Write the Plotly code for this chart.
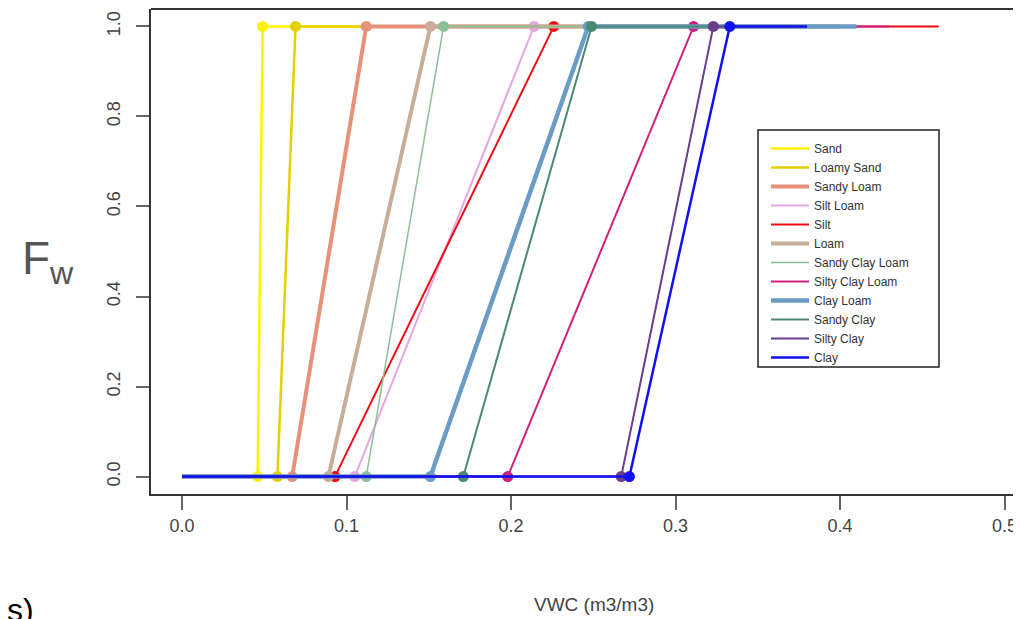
import plotly.graph_objects as go

# ---- data ----
soil_names = ["Sand", "Loamy Sand", "Sandy Loam", "Silt Loam", "Silt", "Loam",
              "Sandy Clay Loam", "Silty Clay Loam", "Clay Loam", "Sandy Clay",
              "Silty Clay", "Clay"]
vwc_low = [0.046, 0.058, 0.067, 0.105, 0.093, 0.089, 0.112, 0.198, 0.151, 0.171, 0.267, 0.272]
vwc_high = [0.049, 0.069, 0.112, 0.214, 0.226, 0.151, 0.159, 0.311, 0.247, 0.249, 0.323, 0.333]
vwc_end = [0.37, 0.37, 0.38, 0.40, 0.46, 0.40, 0.38, 0.43, 0.41, 0.38, 0.37, 0.38]
vwc_start = 0.0
fw_low = 0.0
fw_high = 1.0
x_ticks = [0.0, 0.1, 0.2, 0.3, 0.4, 0.5]
y_ticks = [0.0, 0.2, 0.4, 0.6, 0.8, 1.0]

# ---- styles ----
colors = ["#FFF200", "#E6CF00", "#E8917A", "#E3A6E3", "#F00A14", "#C8AE98",
          "#8CBF94", "#D0207E", "#6A9CC6", "#4A8A72", "#6A3C8C", "#1010F0"]
widths = [2.5, 2.5, 4, 2, 2, 4, 1.5, 2, 4.5, 2, 2, 2.5]

OFF = 8  # page body margin
W, H = 1021 - OFF, 619 - OFF
L, R = 151 - OFF, 0
T = 9 - OFF
B = H - (494 - OFF)
pw, ph = W - L - R, H - T - B

X_PER_UNIT = 1645.0  # page pixels per 1.0 VWC (from reference)
X0_PAGE = 182.0
x_lo = (151 - X0_PAGE) / X_PER_UNIT
x_hi = (1021 - X0_PAGE) / X_PER_UNIT


def px_x(p):  # page pixel -> paper
    return (p - OFF - L) / pw


def px_y(p):
    return (H - B - (p - OFF)) / ph


fig = go.Figure()
for i, name in enumerate(soil_names):
    xs = [vwc_start, vwc_low[i], vwc_high[i], vwc_end[i]]
    ys = [fw_low, fw_low, fw_high, fw_high]
    fig.add_trace(go.Scatter(x=xs, y=ys, mode="lines", name=name,
                             line=dict(color=colors[i], width=widths[i]),
                             showlegend=True))
    fig.add_trace(go.Scatter(x=[vwc_low[i], vwc_high[i]], y=[fw_low, fw_high],
                             mode="markers", showlegend=False, hoverinfo="skip",
                             marker=dict(color=colors[i], size=11)))

axis_font = dict(family="Liberation Sans, Arial, sans-serif", size=18, color="#444")
fig.update_xaxes(range=[x_lo, x_hi], tickvals=x_ticks,
                 ticktext=[f"{v:.1f}" for v in x_ticks],
                 showgrid=False, zeroline=False, showline=True, linecolor="#333",
                 linewidth=2, ticks="outside", ticklen=14, tickcolor="#666",
                 tickwidth=1.5, tickfont=axis_font, mirror=False)
fig.update_yaxes(range=[-0.0386, 1.0386], tickvals=y_ticks,
                 ticktext=[f"{v:.1f}" for v in y_ticks],
                 showgrid=False, zeroline=False, showline=True, linecolor="#333",
                 linewidth=2, ticks="outside", ticklen=13, tickcolor="#666",
                 tickwidth=1.5, tickangle=-90, tickfont=axis_font,
                 ticklabelstandoff=9, mirror=False)

shapes = [
    dict(type="line", xref="paper", yref="paper", x0=0, x1=1, y0=1, y1=1,
         line=dict(color="#333", width=2)),
    dict(type="rect", xref="paper", yref="paper",
         x0=px_x(758), x1=px_x(939), y0=px_y(367), y1=px_y(130),
         line=dict(color="#222", width=1.5), fillcolor="rgba(0,0,0,0)"),
]

annotations = [
    dict(text="VWC (m3/m3)", xref="paper", yref="paper", x=px_x(594), y=px_y(604),
         showarrow=False, xanchor="center", yanchor="middle",
         font=dict(family="Liberation Sans, Arial, sans-serif", size=19, color="#444")),
    dict(text="F<sub>w</sub>", xref="paper", yref="paper", x=px_x(20), y=px_y(262),
         showarrow=False, xanchor="left", yanchor="middle",
         font=dict(family="Liberation Sans, Arial, sans-serif", size=46, color="#555")),
    dict(text="s)", xref="paper", yref="paper", x=px_x(5), y=px_y(610),
         showarrow=False, xanchor="left", yanchor="middle",
         font=dict(family="Liberation Sans, Arial, sans-serif", size=32, color="#000")),
]

fig.update_layout(
    width=W, height=H, margin=dict(l=L, r=R, t=T, b=B, pad=0),
    paper_bgcolor="white", plot_bgcolor="white",
    shapes=shapes, annotations=annotations,
    legend=dict(x=px_x(766), y=px_y(134), xanchor="left", yanchor="top",
                bgcolor="rgba(0,0,0,0)", borderwidth=0, tracegroupgap=0,
                itemwidth=38,
                font=dict(family="Liberation Sans, Arial, sans-serif", size=12, color="#333")),
)

fig.write_html("out.html", config={"displayModeBar": False})
